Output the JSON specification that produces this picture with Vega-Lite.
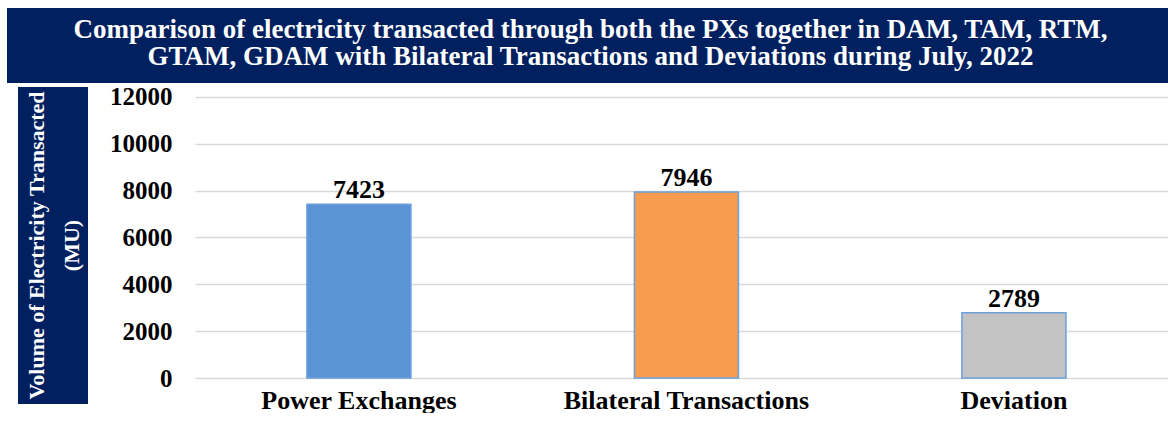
{
  "$schema": "https://vega.github.io/schema/vega-lite/v6.json",
  "padding": {"left": 7, "top": 8, "right": 0, "bottom": 0},
  "background": "white",
  "config": {"font": "Liberation Serif", "view": {"stroke": null}},
  "datasets": {
    "main": [
      {"category": "Power Exchanges", "value": 7423},
      {"category": "Bilateral Transactions", "value": 7946},
      {"category": "Deviation", "value": 2789}
    ],
    "banner": [
      {"t": ["Comparison of electricity transacted through both the PXs together in DAM, TAM, RTM,", "GTAM, GDAM with Bilateral Transactions and Deviations during July, 2022"]}
    ],
    "ytitle": [
      {"t": ["Volume of Electricity Transacted", "(MU)"]}
    ],
    "empty": []
  },
  "spacing": 4,
  "bounds": "flush",
  "vconcat": [
    {
      "width": 1161,
      "height": 75,
      "view": {"fill": "#002060", "stroke": null},
      "data": {"name": "banner"},
      "mark": {"type": "text", "font": "Liberation Serif", "color": "white", "fontWeight": "bold", "fontSize": 27, "lineHeight": 27, "align": "center", "baseline": "middle", "dx": 3, "dy": -16, "limit": 0},
      "encoding": {"text": {"field": "t"}}
    },
    {
      "spacing": 0,
      "bounds": "flush",
      "hconcat": [
        {
          "width": 11,
          "height": 10,
          "data": {"name": "empty"},
          "mark": "text",
          "encoding": {}
        },
        {
          "spacing": 107,
          "bounds": "flush",
          "hconcat": [
            {
              "width": 70,
              "height": 317,
              "view": {"fill": "#002060", "stroke": null},
              "data": {"name": "ytitle"},
              "mark": {"type": "text", "font": "Liberation Serif", "angle": 270, "color": "white", "fontWeight": "bold", "fontSize": 22, "lineHeight": 35, "align": "center", "baseline": "middle", "dy": -16, "dx": 0},
              "encoding": {"text": {"field": "t"}}
            },
            {
              "width": 973,
              "height": 291,
              "data": {"name": "main"},
              "encoding": {
                "x": {
                  "field": "category", "type": "nominal", "sort": null,
                  "scale": {"paddingInner": 0.6824, "paddingOuter": 0.3267, "align": 0.523},
                  "axis": {"title": null, "labelAngle": 0, "labelFont": "Liberation Serif", "labelFontSize": 26, "labelFontWeight": "bold", "labelColor": "black", "labelPadding": 9, "labelLimit": 0, "domain": false, "ticks": false, "tickSize": 0, "grid": false}
                },
                "y": {
                  "field": "value", "type": "quantitative",
                  "scale": {"domain": [0, 12427], "nice": false},
                  "axis": {"title": null, "values": [0, 2000, 4000, 6000, 8000, 10000, 12000], "format": "d", "labelFont": "Liberation Serif", "labelFontSize": 25, "labelFontWeight": "bold", "labelColor": "black", "labelPadding": 23, "ticks": false, "tickSize": 0, "domain": false, "gridColor": "#d9d9d9", "gridWidth": 1.3}
                }
              },
              "layer": [
                {
                  "mark": {"type": "bar", "stroke": "#6c9fdc", "strokeWidth": 1.5},
                  "encoding": {
                    "color": {
                      "field": "category", "type": "nominal",
                      "scale": {"domain": ["Power Exchanges", "Bilateral Transactions", "Deviation"], "range": ["#5a94d6", "#f79c4f", "#c3c3c3"]},
                      "legend": null
                    }
                  }
                },
                {
                  "mark": {"type": "text", "font": "Liberation Serif", "fontSize": 26, "fontWeight": "bold", "dy": -6, "baseline": "alphabetic", "color": "black"},
                  "encoding": {"text": {"field": "value", "type": "quantitative", "format": "d"}}
                }
              ]
            }
          ]
        }
      ]
    }
  ]
}
